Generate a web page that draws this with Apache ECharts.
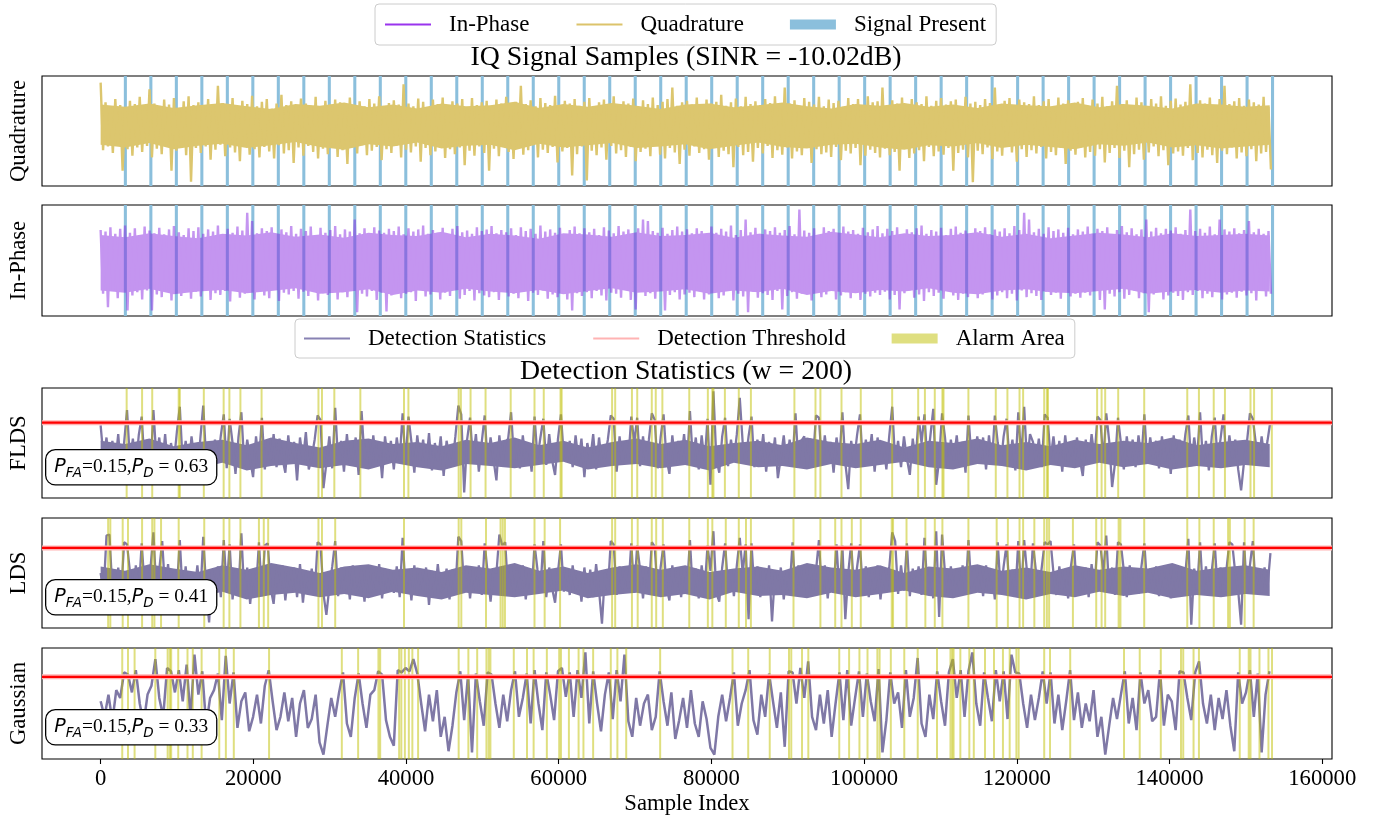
<!DOCTYPE html>
<html><head><meta charset="utf-8">
<script src="https://cdn.jsdelivr.net/npm/echarts@6/dist/echarts.min.js"></script>
<style>html,body{margin:0;padding:0;background:#fff}#c{width:1383px;height:821px}</style>
</head><body><div id="c"></div>
<script>
// ---------------- data ----------------
const xTicks = [0, 20000, 40000, 60000, 80000, 100000, 120000, 140000, 160000];
const xMin = -7680, xMax = 161280;

// start sample of each "Signal Present" span
const sigStarts = [3039,6378,9717,13056,16395,19734,23073,26412,29751,33090,36429,39768,43107,46446,49785,53124,56463,59802,63141,66480,69819,73158,76497,79836,83175,86514,89853,93192,96531,99870,103209,106548,109887,113226,116565,119904,123243,126582,129921,133260,136599,139938,143277,146616,149955,153294];
const sigWidth = 400;

// IQ envelopes: local peak / trough every 640 samples (axis -100..100)
const iqStep = 640;
const qHi = [88,52,44,58,47,40,55,49,62,45,76,50,43,57,48,60,41,54,63,47,
52,46,58,44,82,51,47,60,42,55,49,64,45,53,58,41,50,66,47,54,
44,59,50,46,62,43,55,48,57,52,40,61,47,54,45,58,50,63,44,51,
56,48,85,50,45,59,53,42,57,49,61,46,54,50,58,43,60,47,52,55,
46,57,50,62,44,53,82,49,56,45,60,51,47,64,43,55,50,58,46,53,
60,44,52,57,48,63,45,54,50,59,42,56,49,61,47,53,58,79,46,52,
55,48,61,44,57,50,53,66,46,52,59,45,62,49,54,47,58,51,63,44,
79,50,56,46,60,53,48,62,45,57,51,55,44,60,49,58,47,63,52,54,
79,47,56,50,61,44,58,52,49,63,46,55,60,48,54,57,45,62,50,53,
47,58,51,79,46,55,60,44,57,52,49,63,47,54,58,45,61,50,56,48,
53,60,46,57,50,62,45,54,82,49,56,47,61,52,44,58,50,63,46,55,
59,48,53,85,47,56,50,61,45,58,82,49,54,60,46,57,52,48,62,44];
const qLo = [-35,-28,-40,-25,-72,-33,-45,-30,-38,-27,-48,-32,-42,-29,-72,-36,-26,-44,-92,-31,
-40,-28,-52,-34,-25,-46,-30,-39,-55,-27,-43,-33,-48,-29,-37,-50,-26,-41,-35,-58,
-30,-45,-27,-38,-50,-32,-42,-28,-47,-35,-60,-30,-41,-26,-44,-36,-29,-53,-33,-40,
-27,-48,-34,-39,-28,-56,-31,-44,-37,-25,-49,-33,-42,-30,-62,-36,-45,-28,-40,-72,
-32,-46,-27,-38,-51,-30,-43,-35,-26,-48,-34,-40,-29,-57,-37,-31,-81,-42,-28,-90,
-36,-44,-30,-52,-27,-41,-35,-47,-29,-55,-38,-32,-46,-26,-43,-50,-31,-39,-60,-34,
-45,-28,-40,-33,-52,-30,-47,-36,-42,-66,-29,-44,-38,-56,-31,-41,-27,-49,-35,-43,
-30,-50,-37,-44,-28,-58,-33,-42,-39,-47,-29,-53,-36,-41,-31,-62,-45,-34,-40,-48,
-32,-44,-38,-72,-30,-49,-41,-35,-55,-29,-46,-37,-43,-31,-72,-40,-34,-48,-93,-36,
-42,-30,-51,-37,-45,-28,-39,-56,-33,-47,-35,-41,-29,-50,-38,-44,-31,-60,-36,-43,
-30,-48,-38,-45,-33,-57,-40,-31,-49,-36,-66,-42,-34,-52,-39,-28,-46,-35,-62,-41,
-37,-45,-31,-53,-40,-48,-34,-44,-58,-36,-42,-30,-50,-39,-46,-33,-55,-41,-38,-70];
const iHi = [55,52,60,48,57,63,50,58,45,61,54,49,59,47,56,62,51,46,58,53,
60,48,56,52,63,45,57,50,61,54,86,71,49,58,53,60,47,56,51,62,
48,57,53,61,46,59,50,55,62,47,56,52,74,49,58,45,60,54,50,57,
53,61,47,58,52,56,63,48,55,50,59,46,57,62,51,54,48,60,53,56,
62,49,55,51,58,46,60,53,57,48,63,52,56,50,59,47,55,61,49,58,
51,57,46,60,54,49,62,52,56,47,58,74,71,53,50,59,48,55,61,52,
56,49,58,53,47,61,50,57,52,63,46,55,74,51,59,48,56,53,60,50,
55,62,47,92,54,50,58,46,60,53,57,49,61,52,55,48,59,51,56,62,
49,57,53,60,47,56,51,58,63,48,55,52,59,46,57,61,50,54,48,58,
53,60,47,56,52,58,49,62,55,86,74,51,57,48,60,53,56,50,59,47,
56,52,61,48,57,53,60,46,55,62,51,58,47,56,74,52,59,49,57,54,
60,48,55,92,53,57,50,61,47,74,56,52,58,49,55,71,51,57,48,53];
const iLo = [-60,-84,-55,-68,-52,-90,-63,-57,-70,-54,-90,-61,-66,-53,-72,-58,-64,-50,-69,-56,
-65,-53,-71,-59,-62,-55,-74,-51,-67,-60,-57,-70,-54,-63,-68,-52,-73,-58,-61,-55,
-69,-56,-64,-50,-72,-59,-62,-54,-70,-57,-66,-53,-93,-60,-65,-55,-71,-58,-92,-63,
-54,-68,-60,-57,-73,-52,-65,-61,-56,-70,-58,-64,-51,-69,-62,-55,-72,-59,-63,-66,
-57,-71,-53,-65,-60,-68,-56,-73,-58,-62,-54,-69,-61,-66,-52,-70,-90,-59,-64,-57,
-68,-55,-63,-72,-58,-60,-67,-53,-71,-88,-56,-64,-59,-69,-55,-90,-62,-57,-70,-61,
-58,-66,-54,-70,-61,-57,-68,-63,-52,-72,-60,-65,-93,-56,-67,-59,-62,-71,-55,-88,
-64,-57,-69,-60,-53,-72,-58,-66,-61,-55,-70,-63,-57,-68,-52,-71,-60,-65,-58,-62,
-56,-70,-62,-88,-59,-54,-67,-61,-73,-57,-64,-58,-69,-55,-63,-71,-60,-66,-52,-68,
-61,-55,-70,-63,-57,-68,-60,-72,-54,-66,-59,-64,-71,-56,-62,-58,-69,-53,-65,-60,
-67,-58,-63,-55,-71,-88,-60,-65,-57,-69,-62,-54,-68,-59,-93,-61,-56,-70,-63,-58,
-64,-71,-57,-62,-55,-68,-60,-66,-53,-70,-61,-58,-67,-56,-63,-59,-72,-55,-65,-60];

// solid core of the dense traces (inner envelope), one value per 3190 samples
const coreStep = 3190;
const qCoreTop = [48,44,50,42,47,51,45,40,49,46,52,43,48,41,50,45,47,53,42,49,44,51,46,40,48,50,43,47,52,45,41,49,46,51,44,48,42,50,47,45,52,43,49,46,41,50,48,44,47];
const qCoreBot = [-25,-30,-22,-33,-27,-23,-31,-26,-20,-29,-34,-24,-28,-21,-32,-27,-25,-35,-23,-30,-26,-22,-31,-28,-24,-33,-27,-21,-29,-32,-25,-23,-30,-34,-26,-28,-22,-31,-25,-29,-33,-24,-27,-21,-30,-26,-32,-28,-25];
const iCoreTop = [46,42,49,44,40,48,45,51,43,47,41,50,46,44,52,42,48,45,39,49,47,43,51,44,46,50,41,48,45,43,52,47,42,49,44,46,51,43,48,40,45,50,47,42,49,44,46,48,45];
const iCoreBot = [-54,-58,-51,-61,-56,-53,-59,-55,-50,-60,-57,-52,-62,-54,-58,-51,-56,-59,-53,-61,-55,-50,-58,-56,-52,-60,-54,-57,-51,-62,-55,-59,-53,-56,-50,-58,-61,-54,-52,-57,-59,-55,-51,-60,-56,-53,-58,-54,-56];
const fldsCoreTop = [52,49,54,47,51,53,48,55,50,46,52,54,49,51,47,53,50,55,48,52,46,51,54,49,53,47,50,52,48,55,51,49,53,46,52,50,54,48,51,47,53,49,52,50,55,48,51,53,49];
const fldsCoreBot = [28,31,26,30,27,32,25,29,31,27,30,26,32,28,25,31,29,27,30,33,26,29,31,27,30,25,32,28,29,26,31,27,30,33,28,26,31,29,25,30,27,32,28,31,26,29,27,30,28];
const ldsCoreTop = [56,52,58,54,51,57,53,59,55,50,56,58,53,55,51,57,54,59,52,56,50,55,58,53,57,51,54,56,52,59,55,53,57,50,56,54,58,52,55,51,57,53,56,54,59,52,55,57,53];
const ldsCoreBot = [29,32,27,31,28,33,26,30,32,28,31,27,33,29,26,32,30,28,31,34,27,30,32,28,31,26,33,29,30,27,32,28,31,34,29,27,32,30,26,31,28,33,29,32,27,30,28,31,29];

// detection statistics (axis 0..100)
const fldsStep = 384;
const fldsVals = [66,36,55,26,52,32,58,23,50,80,34,54,28,57,74,30,53,24,80,37,
55,29,58,25,50,33,60,83,31,52,26,56,35,18,54,84,34,28,36,53,
33,57,76,27,72,50,22,55,78,30,53,35,19,56,32,73,26,52,34,58,
28,54,36,23,57,31,51,16,55,34,60,26,37,53,75,71,9,32,56,27,
82,33,52,24,58,30,37,55,21,79,35,53,28,57,32,50,18,56,34,52,
26,55,35,77,31,74,51,23,57,34,53,29,59,25,50,33,56,20,52,36,
32,56,84,76,5,53,73,34,58,24,51,75,31,55,35,16,57,30,50,54,
78,35,53,27,57,32,50,24,74,36,55,72,30,58,34,21,54,76,37,33,
52,28,57,33,54,19,50,35,58,26,55,31,37,53,75,72,24,56,32,51,
35,74,50,73,29,56,33,53,77,71,27,55,76,36,22,57,31,52,34,58,
30,79,34,55,26,57,32,72,12,97,36,23,56,73,29,53,35,58,91,50,
33,56,74,28,53,35,58,24,51,32,55,18,37,57,30,53,34,77,31,52,
56,27,54,35,75,73,30,57,33,51,23,55,36,78,32,8,52,34,57,76,
29,53,35,58,24,55,32,50,26,57,83,33,52,28,56,36,21,54,34,74,
50,76,31,56,81,12,35,77,55,27,53,34,57,30,51,23,75,37,32,56,
35,55,26,57,32,75,50,30,56,72,34,53,25,78,36,83,31,58,51,33,
54,28,76,73,36,56,31,52,24,57,33,50,29,55,35,20,53,32,58,37,
74,71,34,77,52,10,32,73,50,26,56,33,53,28,57,35,76,31,55,36,
52,27,56,33,51,22,57,31,53,35,58,75,29,55,36,78,32,52,25,56,
73,34,54,76,30,57,36,53,26,7,33,51,77,72,50,31,56,35,52,70];
const ldsStep = 384;
const ldsVals = [50,32,84,85,35,27,55,30,78,76,51,24,57,32,77,37,28,54,87,34,
53,79,33,58,26,52,35,80,29,56,23,50,32,57,27,83,36,5,53,33,
56,28,80,35,76,26,53,33,86,30,55,22,50,34,78,29,75,77,36,22,
52,32,57,25,51,34,55,28,58,23,50,35,54,30,78,76,31,12,37,56,
79,29,55,34,52,26,57,32,37,53,24,56,30,50,35,58,27,54,33,51,
32,56,28,82,35,53,25,57,31,50,34,55,21,52,29,58,33,37,54,26,
53,33,83,79,36,55,27,52,34,57,30,77,50,24,54,50,85,75,78,32,
56,29,52,35,57,26,50,32,76,53,34,79,28,55,36,23,51,76,33,54,
30,57,35,51,24,55,32,53,28,58,34,4,50,33,79,76,30,56,35,52,
36,77,32,75,53,27,56,34,78,74,30,55,76,37,25,57,33,52,28,56,
35,80,31,54,27,57,34,75,52,88,32,24,55,77,36,53,29,57,82,50,
76,8,77,33,56,28,53,35,57,6,50,32,55,26,52,34,78,31,57,37,
53,29,56,34,52,80,32,57,27,54,35,76,31,75,8,50,77,33,55,76,
32,56,28,53,35,57,26,52,33,55,87,79,31,57,34,77,29,54,36,56,
30,82,35,55,27,88,10,85,50,32,56,28,53,34,57,30,80,36,54,33,
55,29,57,34,52,26,78,32,56,76,35,53,30,79,33,80,50,31,77,52,
34,55,78,76,79,50,30,56,35,53,27,57,76,32,51,34,55,28,58,36,
78,75,50,84,33,55,30,78,76,52,28,57,34,53,31,56,77,36,54,32,
56,29,52,35,57,27,53,33,55,30,50,81,3,54,35,78,31,56,34,52,
77,33,55,29,53,78,76,50,34,3,78,31,57,79,35,52,32,55,37,68];
const gauStep = 512;
const gauVals = [52,38,58,34,62,55,78,76,60,80,50,32,58,66,90,55,38,82,79,60,
80,52,85,37,94,58,79,30,55,62,77,35,93,50,78,28,52,60,25,38,
58,32,66,80,52,26,38,60,34,55,20,50,62,28,36,58,15,4,30,55,
38,60,78,32,20,55,77,50,28,58,62,79,76,35,20,12,80,78,82,79,
90,77,50,25,58,34,62,20,38,7,30,60,79,35,76,6,77,52,30,78,
76,50,28,58,34,62,79,38,55,77,32,80,50,26,78,58,35,79,82,56,
78,38,80,55,96,32,79,50,25,58,78,36,80,52,94,34,20,55,30,50,
58,26,38,79,52,30,60,18,35,55,28,62,32,20,52,36,10,4,38,58,
34,55,78,30,50,62,80,35,22,58,38,77,52,28,60,11,79,78,50,82,
55,88,38,26,58,32,62,20,50,78,35,80,30,55,79,38,77,52,34,81,
6,35,78,50,60,28,80,38,55,91,32,20,58,36,79,52,30,78,90,55,
80,38,79,96,50,30,78,55,34,80,52,79,36,94,78,77,50,28,58,35,
55,79,50,78,32,58,26,52,80,35,60,28,50,34,62,20,38,4,30,55,
36,58,79,32,55,26,78,50,62,34,38,80,30,58,52,26,79,78,55,35,
78,88,50,32,58,26,55,36,62,30,7,78,50,60,80,38,77,6,58,79];

// alarm centres (samples)
const alarmWidth = 260;
const fldsAlarms = [3407,5429,6757,10222,10372,13514,16112,16863,18307,21079,28529,28990,30608,34015,39732,40310,46893,47182,48452,50416,53708,56826,58039,60233,60383,66990,67394,69589,70282,72187,72707,73574,77096,79530,80117,80267,81762,83583,85169,90867,93628,94274,97035,99560,103672,107079,107960,109253,110251,110401,113658,117241,118768,120354,120824,123585,123937,124087,130516,131103,131573,133277,136684,142323,143850,145789,147257,150605,151075,153400];
const ldsAlarms = [982,1270,2888,3580,5429,6757,7045,7912,10222,13571,16112,16863,18307,20732,21368,21945,28529,28990,30723,39732,46893,47240,50474,52379,52668,52957,56826,58154,60176,66990,67394,69589,70340,72187,72765,73631,77096,79530,80117,81880,83583,84523,85169,90749,94274,96212,97035,98386,99560,103613,103789,105552,108019,109253,110251,113658,117359,118827,120354,120824,122293,123585,123937,124231,127344,130399,131103,131573,133335,133570,136684,142323,143909,145789,147668,147903,149842,151017];
const gauAlarms = [2830,3581,4447,7161,8778,9067,9240,10164,11377,12070,13225,15535,16401,17441,22061,31589,33726,36383,36614,39097,39386,39848,40367,40829,41580,46893,48164,49319,50531,50820,51051,54112,55844,56711,58443,60060,60291,61331,62601,63236,64507,66817,67683,68838,73285,82761,84817,87636,90162,90456,91865,92688,96741,98033,99384,100442,101734,102028,103496,105258,107020,109546,111308,111543,111720,112601,113776,114363,115831,117006,118181,119062,119943,120237,123585,124349,126992,134041,136097,138857,141501,141795,143146,143851,149196,150371,150606,151781,152956,153425];

const thresholds = [68.5, 72.8, 74];
const pfa = '0.15';
const pdVals = ['0.63', '0.41', '0.33'];

// ---------------- chart ----------------
const FONT = 'Liberation Serif';
const LBL = 22.7;
const gridTops = [76, 205, 388, 518, 648];
const gridHeights = [110, 111, 110, 110, 111];
const COL_Q = '#dcc66e', COL_I = '#8a2be2', COL_SIG = '#8bbfdc';
const COL_DET = 'rgb(127,120,166)', COL_ALARM = 'rgba(191,191,0,0.5)';

function zigzag(hi, lo, step) {
  const d = [];
  for (let i = 0; i < hi.length && i < lo.length; i++) {
    d.push([i * step, hi[i]]);
    d.push([i * step + step / 2, lo[i]]);
  }
  return d;
}
function series1(vals, step) { return vals.map((v, i) => [i * step, v]); }
function spanRender(color) {
  return function (params, api) {
    const a = api.coord([api.value(0), 0])[0];
    const b = api.coord([api.value(2), 0])[0];
    const cs = params.coordSys;
    return { type: 'rect', shape: { x: a, y: cs.y, width: Math.max(b - a, 0.9), height: cs.height },
             style: { fill: color } };
  };
}
function coreRender(tops, bots, step, color) {
  return function (params, api) {
    if (params.dataIndex !== 0) return null;
    const pts = [];
    for (let i = 0; i < tops.length; i++) pts.push(api.coord([i * step, tops[i]]));
    for (let i = bots.length - 1; i >= 0; i--) pts.push(api.coord([i * step, bots[i]]));
    return { type: 'polygon', shape: { points: pts }, style: { fill: color } };
  };
}
function coreSeries(g, tops, bots, color, z, zlevel) {
  return { type: 'custom', xAxisIndex: g, yAxisIndex: g, z: z, zlevel: zlevel || 0, silent: true,
    renderItem: coreRender(tops, bots, coreStep, color), encode: { x: 0, y: 1 },
    data: tops.map((t, i) => [i * coreStep, t]) };
}

const grid = gridTops.map((t, i) => ({ left: 41, width: 1291, top: t, height: gridHeights[i],
  show: true, borderColor: '#000', borderWidth: 1.1, backgroundColor: 'transparent' }));
const xAxis = gridTops.map((t, i) => ({
  type: 'value', gridIndex: i, min: xMin, max: xMax, show: i === 4,
  splitLine: { show: false }, axisLine: { show: false },
  axisTick: { show: i === 4, length: 5, customValues: xTicks, lineStyle: { color: '#000', width: 1.1 } },
  axisLabel: { show: i === 4, customValues: xTicks, margin: 9, fontFamily: FONT, fontSize: LBL, color: '#000',
    formatter: v => String(v) },
  name: i === 4 ? 'Sample Index' : '', nameLocation: 'middle', nameGap: 34,
  nameTextStyle: { fontFamily: FONT, fontSize: LBL, color: '#000' }
}));
const yNames = ['Quadrature', 'In-Phase', 'FLDS', 'LDS', 'Gaussian'];
const yAxis = gridTops.map((t, i) => ({
  type: 'value', gridIndex: i, min: i < 2 ? -100 : 0, max: 100,
  splitLine: { show: false }, axisLine: { show: false }, axisTick: { show: false }, axisLabel: { show: false },
  name: yNames[i], nameLocation: 'middle', nameGap: 11, nameRotate: 90,
  nameTextStyle: { fontFamily: FONT, fontSize: LBL, color: '#000' }
}));

const series = [];
[0, 1].forEach(g => series.push({
  name: 'Signal Present', type: 'custom', xAxisIndex: g, yAxisIndex: g, z: 1, silent: true,
  itemStyle: { color: COL_SIG }, renderItem: spanRender(COL_SIG), encode: { x: [0, 2], y: 1 },
  data: sigStarts.map(s => [s, 0, s + sigWidth])
}));
series.push({ name: 'Quadrature', type: 'line', xAxisIndex: 0, yAxisIndex: 0, z: 2, symbol: 'none', silent: true,
  lineStyle: { color: COL_Q, width: 2.4 }, itemStyle: { color: COL_Q }, data: zigzag(qHi, qLo, iqStep) });
series.push(coreSeries(0, qCoreTop, qCoreBot, COL_Q, 2));
// In-Phase is drawn opaque on its own layer; the layer is shown at 50 % opacity below
series.push({ name: 'In-Phase', type: 'line', xAxisIndex: 1, yAxisIndex: 1, z: 2, zlevel: 1, symbol: 'none', silent: true,
  lineStyle: { color: COL_I, width: 2.4 }, itemStyle: { color: COL_I }, data: zigzag(iHi, iLo, iqStep) });
series.push(coreSeries(1, iCoreTop, iCoreBot, COL_I, 2, 1));

const detData = [series1(fldsVals, fldsStep), series1(ldsVals, ldsStep), series1(gauVals, gauStep)];
const cores = [[fldsCoreTop, fldsCoreBot], [ldsCoreTop, ldsCoreBot], null];
const alarms = [fldsAlarms, ldsAlarms, gauAlarms];
for (let k = 0; k < 3; k++) {
  const g = k + 2;
  series.push({ name: 'Detection Statistics', type: 'line', xAxisIndex: g, yAxisIndex: g, z: 2, symbol: 'none', silent: true,
    lineStyle: { color: COL_DET, width: k === 2 ? 2.5 : 2.3 }, itemStyle: { color: COL_DET }, data: detData[k] });
  if (cores[k]) series.push(coreSeries(g, cores[k][0], cores[k][1], COL_DET, 2));
  series.push({ name: 'Alarm Area', type: 'custom', xAxisIndex: g, yAxisIndex: g, z: 3, silent: true,
    itemStyle: { color: COL_ALARM }, renderItem: spanRender(COL_ALARM), encode: { x: [0, 2], y: 1 },
    data: alarms[k].map(c => [c - alarmWidth / 2, 0, c + alarmWidth / 2]) });
  series.push({ name: 'Detection Threshold', type: 'line', xAxisIndex: g, yAxisIndex: g, z: 4, symbol: 'none', silent: true,
    lineStyle: { color: '#ffb3b3', width: 5 }, itemStyle: { color: '#ffb3b3' },
    data: [[xMin, thresholds[k]], [xMax, thresholds[k]]] });
  series.push({ name: 'Detection Threshold', type: 'line', xAxisIndex: g, yAxisIndex: g, z: 5, symbol: 'none', silent: true,
    lineStyle: { color: '#ff0000', width: 2.2 }, itemStyle: { color: '#ff0000' },
    data: [[xMin, thresholds[k]], [xMax, thresholds[k]]] });
}

const legendCommon = {
  orient: 'horizontal', itemWidth: 46, itemHeight: 10, itemGap: 46,
  textStyle: { fontFamily: FONT, fontSize: 23, color: '#000', padding: [0, 0, 0, 13] },
  borderColor: '#cccccc', borderWidth: 1, borderRadius: 4, backgroundColor: '#fff',
  selectedMode: false
};
const legend = [
  Object.assign({}, legendCommon, { left: 375, top: 4, padding: [9, 10, 9, 9],
    data: [
      { name: 'In-Phase', itemStyle: { opacity: 0 }, lineStyle: { color: '#9a34ee', width: 2 } },
      { name: 'Quadrature', itemStyle: { opacity: 0 }, lineStyle: { color: '#dcc36b', width: 2 } },
      { name: 'Signal Present', icon: 'rect', itemStyle: { color: COL_SIG } }
    ] }),
  Object.assign({}, legendCommon, { left: 295, top: 319, padding: [8, 10, 8, 8],
    data: [
      { name: 'Detection Statistics', itemStyle: { opacity: 0 }, lineStyle: { color: '#8882b3', width: 2 } },
      { name: 'Detection Threshold', itemStyle: { opacity: 0 }, lineStyle: { color: '#ffb3b3', width: 2 } },
      { name: 'Alarm Area', icon: 'rect', itemStyle: { color: '#dfdf80' } }
    ] })
];

const title = [
  { text: 'IQ Signal Samples (SINR = -10.02dB)', left: 686, top: 44, textAlign: 'center', padding: 0,
    textStyle: { fontFamily: FONT, fontSize: 27.8, fontWeight: 'normal', color: '#000' } },
  { text: 'Detection Statistics (w = 200)', left: 686, top: 358, textAlign: 'center', padding: 0,
    textStyle: { fontFamily: FONT, fontSize: 27.8, fontWeight: 'normal', color: '#000' } }
];

const boxTops = [449, 579, 709];
const graphic = pdVals.map((pd, k) => ({
  type: 'text', left: 45, top: boxTops[k], z: 100,
  style: {
    text: '{p|P}{s|FA}{t|=' + pfa + ',}{p|P}{s|D}{t| = ' + pd + '}',
    rich: {
      p: { fontFamily: 'DejaVu Sans', fontStyle: 'italic', fontSize: 19, lineHeight: 26, verticalAlign: 'middle' },
      s: { fontFamily: 'DejaVu Sans', fontStyle: 'italic', fontSize: 13.5, lineHeight: 26, verticalAlign: 'bottom' },
      t: { fontFamily: FONT, fontSize: 19.4, lineHeight: 26, verticalAlign: 'middle' }
    },
    backgroundColor: '#fff', borderColor: '#000', borderWidth: 1.3, borderRadius: 9,
    padding: [4, 8, 4, 8]
  }
}));

const chart = echarts.init(document.getElementById('c'), null, { width: 1383, height: 821 });
chart.setOption({ animation: false, backgroundColor: '#fff', title, legend, grid, xAxis, yAxis, series, graphic });
try {
  const layer = chart.getZr().painter.getLayer(1);
  if (layer && layer.dom) layer.dom.style.opacity = '0.5';
} catch (e) {}
</script>
</body></html>
